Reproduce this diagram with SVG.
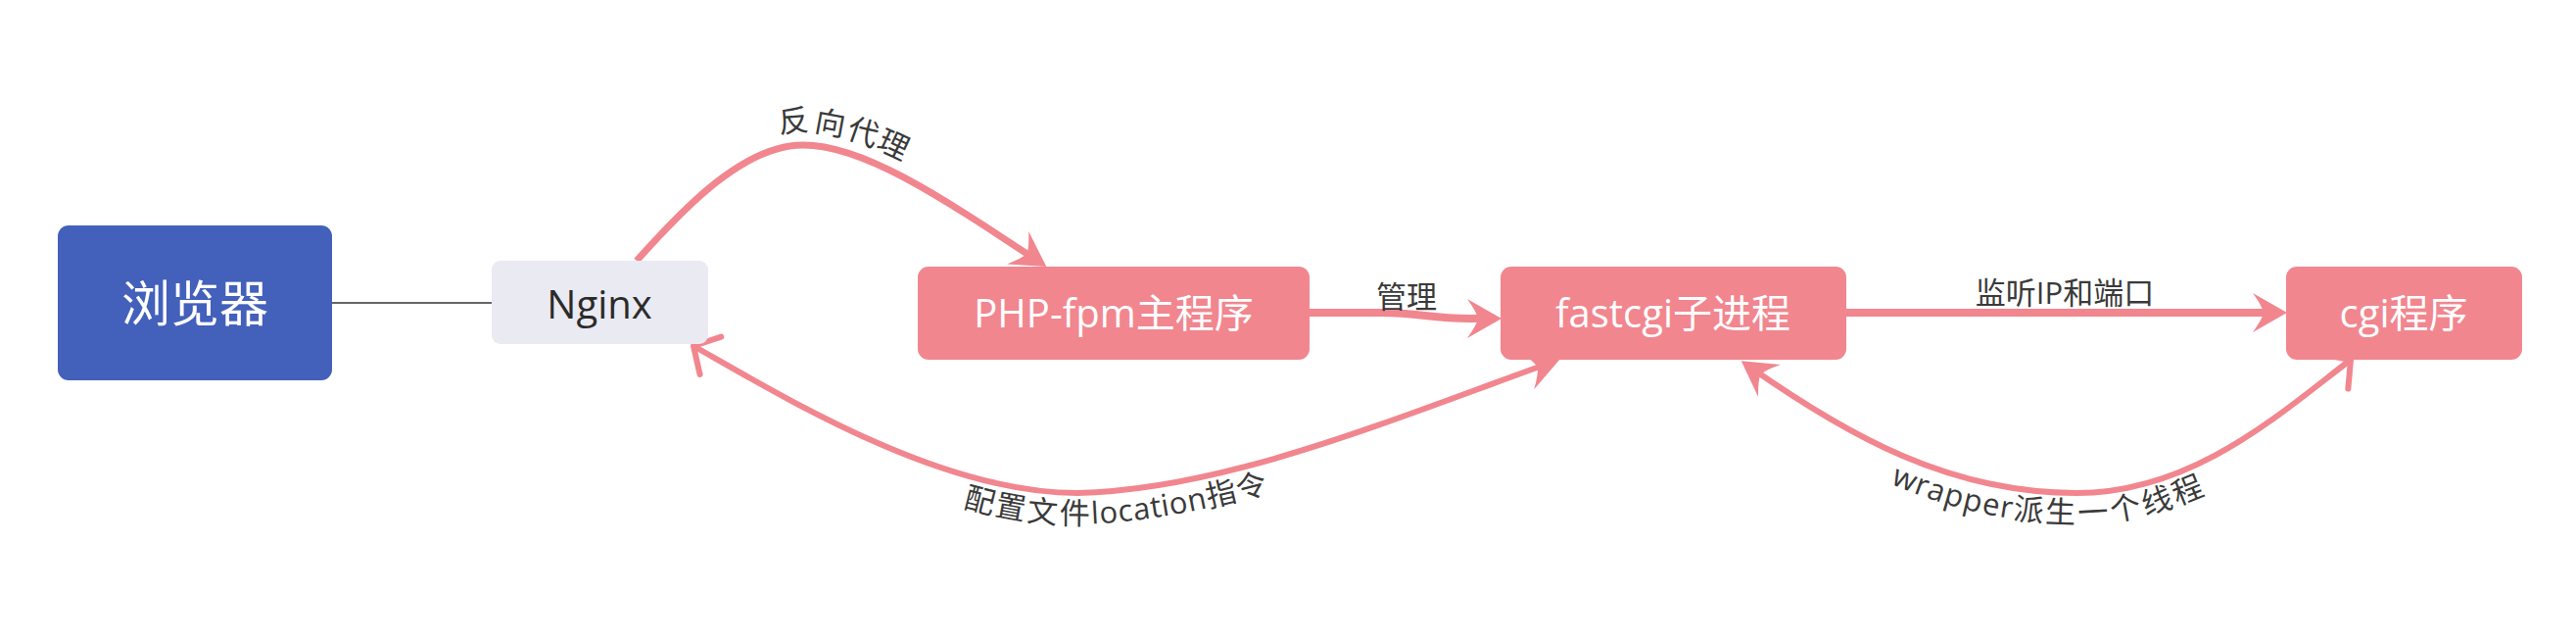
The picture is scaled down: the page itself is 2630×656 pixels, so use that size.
<svg xmlns="http://www.w3.org/2000/svg" width="2630" height="656" viewBox="0 0 2630 656">
<style>
.node-text{font-family:"Open Sans","Noto Sans CJK SC",sans-serif;font-size:40px;fill:#ffffff;text-anchor:middle}
.pink{fill:#F1868F}
.edge{fill:none;stroke:#F1868F;stroke-linecap:butt}
.lbl{font-family:"Open Sans","Noto Sans CJK SC",sans-serif;font-size:31px;fill:#3a3a3a}
</style>
<defs>
<marker id="arrow" markerUnits="userSpaceOnUse" orient="auto-start-reverse" markerWidth="1" markerHeight="1" refX="0" refY="0" overflow="visible">
<path d="M10,0 L-25,-20 Q-15,-6 -14,0 Q-15,6 -25,20 Z" fill="#F1868F"/>
</marker>
<marker id="open" markerUnits="userSpaceOnUse" orient="auto-start-reverse" markerWidth="1" markerHeight="1" refX="0" refY="0" overflow="visible">
<path d="M-20,-22 L0,0 L-20,22" fill="none" stroke="#F1868F" stroke-width="6" stroke-linecap="round" stroke-linejoin="round"/>
</marker>
</defs>
<rect width="2630" height="656" fill="#ffffff"/>
<g id="connectors">
<line x1="338" y1="309" x2="503" y2="309" stroke="#666666" stroke-width="2"/>
<path id="e1" class="edge" stroke-width="7" d="M650,266 C700,210 760,148 820,148 C880,148 955,197 1060,266.5" marker-end="url(#arrow)"/>
<path id="e2" class="edge" stroke-width="8" d="M1337,319 L1410,319 C1450,319 1460,325 1500,325 L1523,325" marker-end="url(#arrow)"/>
<path id="e3" class="edge" stroke-width="8" d="M1885,319 L2325,319" marker-end="url(#arrow)"/>
<path id="e4" class="edge" stroke-width="6" d="M708,353 C800,405 960,503 1100,503 C1250,500 1421,428 1583,370" marker-start="url(#open)" marker-end="url(#arrow)"/>
<path id="e5" class="edge" stroke-width="6" d="M1786,374 C1886,444 1990,503 2120,503 C2240,503 2330,420 2400,367" marker-start="url(#arrow)" marker-end="url(#open)"/>
<text class="lbl" dy="-14"><textPath href="#e1" startOffset="52%" text-anchor="middle">反向代理</textPath></text>
<text class="lbl" x="1436" y="314" text-anchor="middle">管理</text>
<text class="lbl" x="2108" y="310" text-anchor="middle">监听IP和端口</text>
<text class="lbl" dy="32"><textPath href="#e4" startOffset="50%" text-anchor="middle">配置文件location指令</textPath></text>
<text class="lbl" dy="31"><textPath href="#e5" startOffset="49%" text-anchor="middle">wrapper派生一个线程</textPath></text>
</g>
<g id="browser">
<rect x="59" y="230" width="280" height="158" rx="11" fill="#4360BB"/>
<text class="node-text" x="199" y="328" style="font-size:50px">浏览器</text>
</g>
<g id="nginx">
<rect x="502" y="266" width="221" height="85" rx="9" fill="#EAEAF2"/>
<text class="node-text" x="612" y="325" style="fill:#2b2b2b">Nginx</text>
</g>
<g id="php-fpm">
<rect class="pink" x="937" y="272" width="400" height="95" rx="11"/>
<text class="node-text" x="1137" y="334">PHP-fpm主程序</text>
</g>
<g id="fastcgi">
<rect class="pink" x="1532" y="272" width="353" height="95" rx="11"/>
<text class="node-text" x="1708" y="334">fastcgi子进程</text>
</g>
<g id="cgi">
<rect class="pink" x="2334" y="272" width="241" height="95" rx="11"/>
<text class="node-text" x="2454" y="334">cgi程序</text>
</g>
</svg>
